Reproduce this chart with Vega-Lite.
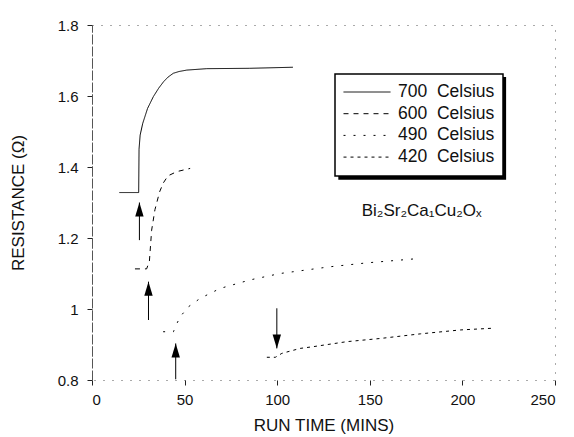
{
  "$schema": "https://vega.github.io/schema/vega-lite/v6.json",
  "autosize": {"type": "none"},
  "width": 463,
  "height": 355,
  "padding": {"left": 92, "top": 25, "right": 19, "bottom": 57},
  "background": "white",
  "config": {
    "font": "Liberation Sans",
    "view": {"stroke": "#555", "strokeDash": [1, 8], "strokeWidth": 1},
    "axis": {"grid": false, "labelFont": "Liberation Sans", "titleFont": "Liberation Sans", "labelColor": "#111", "titleColor": "#111", "titleFontWeight": "normal", "labelFontSize": 15, "titleFontSize": 17, "tickColor": "#222", "domainColor": "#555"}
  },
  "datasets": {
    "curves": [
      {"temp": "700 Celsius", "i": 1, "time": 14.8, "res": 1.328},
      {"temp": "700 Celsius", "i": 2, "time": 25.2, "res": 1.328},
      {"temp": "700 Celsius", "i": 3, "time": 25.4, "res": 1.45},
      {"temp": "700 Celsius", "i": 4, "time": 26.0, "res": 1.49},
      {"temp": "700 Celsius", "i": 5, "time": 27.4, "res": 1.523},
      {"temp": "700 Celsius", "i": 6, "time": 30.0, "res": 1.565},
      {"temp": "700 Celsius", "i": 7, "time": 33.1, "res": 1.598},
      {"temp": "700 Celsius", "i": 8, "time": 36.0, "res": 1.622},
      {"temp": "700 Celsius", "i": 9, "time": 38.6, "res": 1.64},
      {"temp": "700 Celsius", "i": 10, "time": 41.0, "res": 1.653},
      {"temp": "700 Celsius", "i": 11, "time": 43.9, "res": 1.664},
      {"temp": "700 Celsius", "i": 12, "time": 47.0, "res": 1.669},
      {"temp": "700 Celsius", "i": 13, "time": 51.2, "res": 1.673},
      {"temp": "700 Celsius", "i": 14, "time": 62.0, "res": 1.677},
      {"temp": "700 Celsius", "i": 15, "time": 85.0, "res": 1.678},
      {"temp": "700 Celsius", "i": 16, "time": 108.5, "res": 1.681},
      {"temp": "600 Celsius", "i": 1, "time": 23.2, "res": 1.113},
      {"temp": "600 Celsius", "i": 2, "time": 29.5, "res": 1.113},
      {"temp": "600 Celsius", "i": 3, "time": 31.0, "res": 1.135},
      {"temp": "600 Celsius", "i": 4, "time": 32.2, "res": 1.222},
      {"temp": "600 Celsius", "i": 5, "time": 34.0, "res": 1.28},
      {"temp": "600 Celsius", "i": 6, "time": 36.5, "res": 1.33},
      {"temp": "600 Celsius", "i": 7, "time": 38.5, "res": 1.355},
      {"temp": "600 Celsius", "i": 8, "time": 41.0, "res": 1.375},
      {"temp": "600 Celsius", "i": 9, "time": 45.8, "res": 1.387},
      {"temp": "600 Celsius", "i": 10, "time": 53.0, "res": 1.396},
      {"temp": "490 Celsius", "i": 1, "time": 38.4, "res": 0.936},
      {"temp": "490 Celsius", "i": 2, "time": 44.0, "res": 0.936},
      {"temp": "490 Celsius", "i": 3, "time": 45.0, "res": 0.95},
      {"temp": "490 Celsius", "i": 4, "time": 47.6, "res": 0.978},
      {"temp": "490 Celsius", "i": 5, "time": 52.0, "res": 1.006},
      {"temp": "490 Celsius", "i": 6, "time": 58.4, "res": 1.03},
      {"temp": "490 Celsius", "i": 7, "time": 69.2, "res": 1.058},
      {"temp": "490 Celsius", "i": 8, "time": 85.4, "res": 1.082},
      {"temp": "490 Celsius", "i": 9, "time": 101.6, "res": 1.1},
      {"temp": "490 Celsius", "i": 10, "time": 128.6, "res": 1.119},
      {"temp": "490 Celsius", "i": 11, "time": 148.5, "res": 1.13},
      {"temp": "490 Celsius", "i": 12, "time": 173.7, "res": 1.141},
      {"temp": "420 Celsius", "i": 1, "time": 94.4, "res": 0.864},
      {"temp": "420 Celsius", "i": 2, "time": 99.0, "res": 0.864},
      {"temp": "420 Celsius", "i": 3, "time": 102.5, "res": 0.875},
      {"temp": "420 Celsius", "i": 4, "time": 112.4, "res": 0.889},
      {"temp": "420 Celsius", "i": 5, "time": 119.6, "res": 0.894},
      {"temp": "420 Celsius", "i": 6, "time": 137.6, "res": 0.908},
      {"temp": "420 Celsius", "i": 7, "time": 155.7, "res": 0.917},
      {"temp": "420 Celsius", "i": 8, "time": 177.3, "res": 0.93},
      {"temp": "420 Celsius", "i": 9, "time": 198.9, "res": 0.941},
      {"temp": "420 Celsius", "i": 10, "time": 216.9, "res": 0.946}
    ],
    "arrows": [
      {"x": 25.6, "tail": 1.194, "tip": 1.300, "dir": "up"},
      {"x": 30.5, "tail": 0.969, "tip": 1.077, "dir": "up"},
      {"x": 45.2, "tail": 0.802, "tip": 0.903, "dir": "up"},
      {"x": 99.8, "tail": 1.002, "tip": 0.889, "dir": "down"}
    ],
    "note": [{"label": "Bi₂Sr₂Ca₁Cu₂Oₓ"}]
  },
  "layer": [
    {
      "data": {"name": "note"},
      "mark": {"type": "rect", "color": "black"},
      "encoding": {
        "x": {"datum": 133, "type": "quantitative"},
        "x2": {"datum": 223.6},
        "y": {"datum": 1.6535, "type": "quantitative"},
        "y2": {"datum": 1.364}
      }
    },
    {
      "data": {"name": "curves"},
      "mark": {"type": "line", "color": "black", "strokeWidth": 1},
      "encoding": {
        "x": {"field": "time", "type": "quantitative", "scale": {"domain": [0, 250], "nice": false, "zero": false},
          "axis": {"title": "RUN TIME (MINS)", "values": [0, 50, 100, 150, 200, 250], "domain": false, "tickSize": 5, "labelPadding": 7, "titlePadding": 10}},
        "y": {"field": "res", "type": "quantitative", "scale": {"domain": [0.8, 1.8], "nice": false, "zero": false},
          "axis": {"title": "RESISTANCE (Ω)", "values": [0.8, 1, 1.2, 1.4, 1.6, 1.8], "labelExpr": "datum.value == 1 ? '1' : format(datum.value, '.1f')", "domain": true, "domainDash": [10, 2], "tickSize": 5, "labelPadding": 9, "titlePadding": 30}},
        "order": {"field": "i", "type": "quantitative"},
        "strokeDash": {"field": "temp", "type": "nominal",
          "scale": {"domain": ["700 Celsius", "600 Celsius", "490 Celsius", "420 Celsius"], "range": [[1, 0], [5, 5], [2, 8], [3, 4]]},
          "legend": {"title": null, "orient": "none", "legendX": 243, "legendY": 49, "fillColor": "white", "strokeColor": "black", "padding": 8, "symbolType": "stroke", "symbolSize": 2209, "symbolStrokeWidth": 1, "symbolStrokeColor": "black", "clipHeight": 20, "rowPadding": 1.7, "labelOffset": 7, "labelFontSize": 17.5, "labelFont": "Liberation Sans", "labelColor": "#111",
            "labelExpr": "replace(datum.label, ' ', '\u00a0 ')",
            "encode": {"legend": {"update": {"strokeWidth": {"value": 1.5}}}}}
        }
      }
    },
    {
      "data": {"name": "arrows"},
      "mark": {"type": "rule", "color": "black", "strokeWidth": 1},
      "encoding": {
        "x": {"field": "x", "type": "quantitative"},
        "y": {"field": "tail", "type": "quantitative"},
        "y2": {"field": "tip"}
      }
    },
    {
      "data": {"name": "arrows"},
      "mark": {"type": "point", "filled": true, "color": "black", "opacity": 1, "size": 196},
      "encoding": {
        "x": {"field": "x", "type": "quantitative"},
        "y": {"field": "tip", "type": "quantitative"},
        "shape": {"field": "dir", "type": "nominal", "scale": {"domain": ["up", "down"], "range": ["M0,0L0.6,2L-0.6,2Z", "M0,0L0.6,-2L-0.6,-2Z"]}, "legend": null}
      }
    },
    {
      "data": {"name": "note"},
      "mark": {"type": "text", "fontSize": 17, "font": "Liberation Sans", "color": "#111", "align": "center", "baseline": "middle"},
      "encoding": {
        "x": {"datum": 178, "type": "quantitative"},
        "y": {"datum": 1.276, "type": "quantitative"},
        "text": {"field": "label"}
      }
    }
  ]
}
